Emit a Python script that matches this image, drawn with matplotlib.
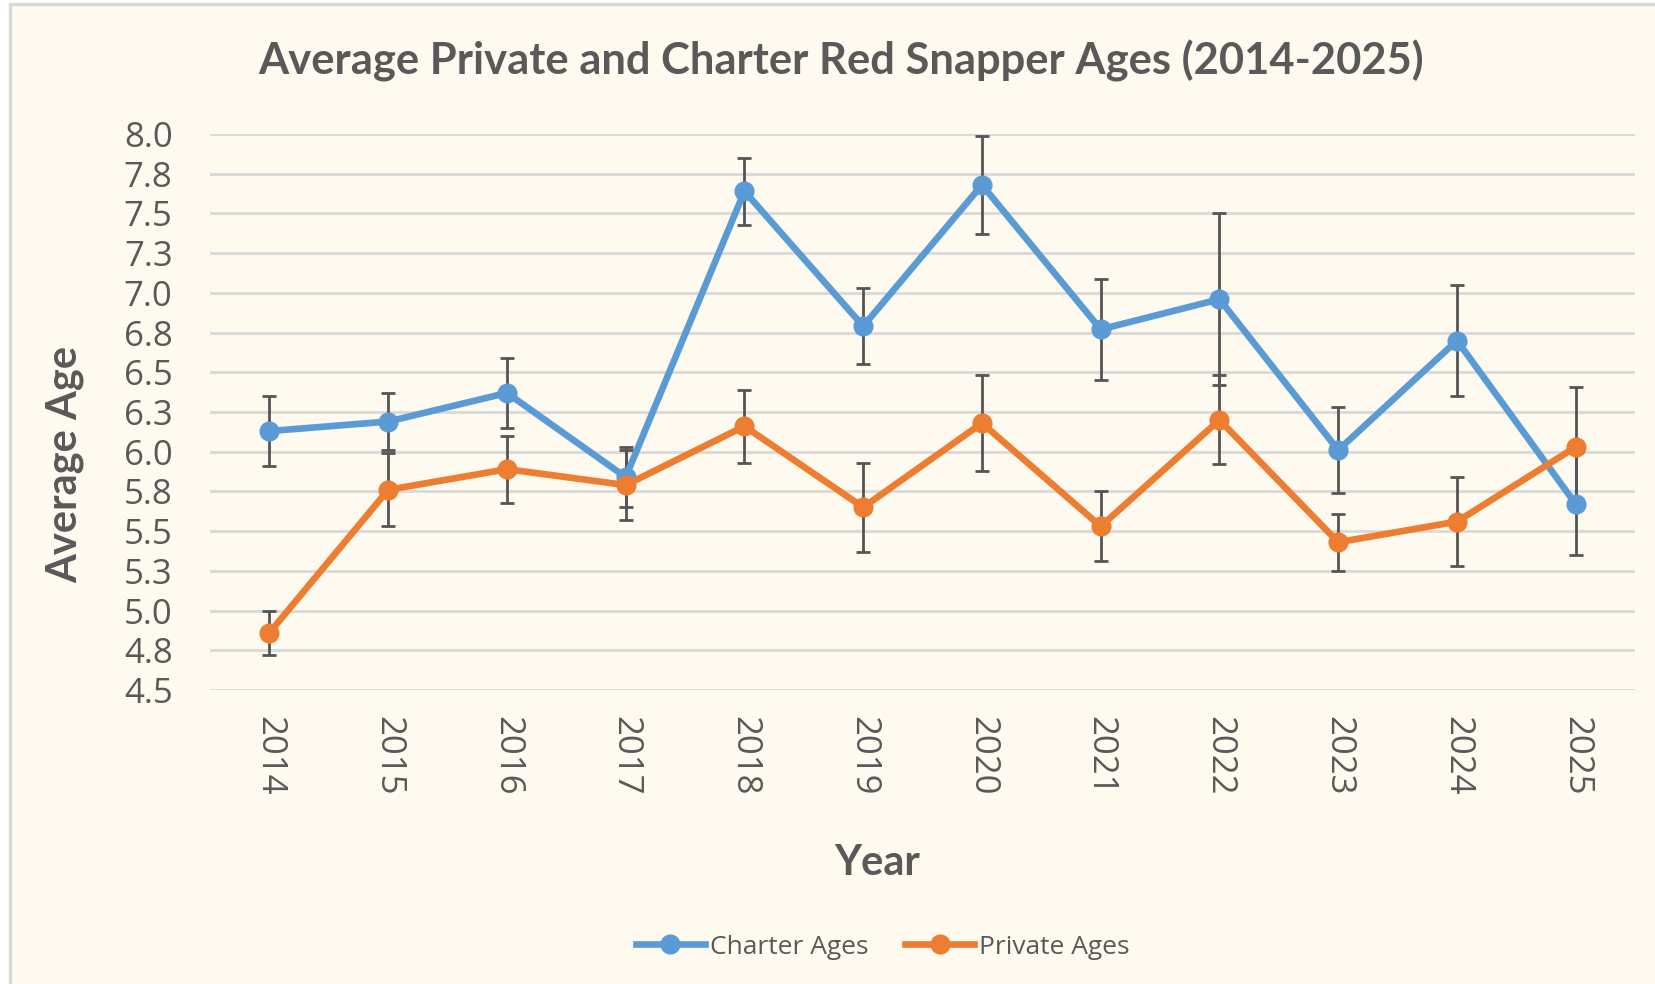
"""
Average private vs charter red snapper ages, 2014-2025, with error bars.
"""
import numpy as np
import matplotlib
matplotlib.use('Agg')
import matplotlib.pyplot as plt
from matplotlib.patches import Rectangle

# ── Data ──────────────────────────────────────────────────────
years = ['2014', '2015', '2016', '2017', '2018', '2019',
         '2020', '2021', '2022', '2023', '2024', '2025']
charter_ages = [6.13, 6.19, 6.37, 5.84, 7.64, 6.79, 7.68, 6.77, 6.96, 6.01, 6.70, 5.67]
charter_err  = [0.22, 0.18, 0.22, 0.19, 0.21, 0.24, 0.31, 0.32, 0.54, 0.27, 0.35, 0.32]
private_ages = [4.86, 5.76, 5.89, 5.79, 6.16, 5.65, 6.18, 5.53, 6.20, 5.43, 5.56, 6.03]
private_err  = [0.14, 0.23, 0.21, 0.22, 0.23, 0.28, 0.30, 0.22, 0.28, 0.18, 0.28, 0.38]
y_ticks = [4.5, 4.75, 5.0, 5.25, 5.5, 5.75, 6.0, 6.25, 6.5, 6.75, 7.0, 7.25, 7.5, 7.75, 8.0]
y_tick_labels = ['4.5', '4.8', '5.0', '5.3', '5.5', '5.8', '6.0', '6.3',
                 '6.5', '6.8', '7.0', '7.3', '7.5', '7.8', '8.0']

BLUE = '#5B9BD5'
ORANGE = '#ED7D31'
TEXT = '#595959'
GRID = '#D9D9D9'
BG = '#FEFAEF'

# ── Figure ───────────────────────────────────────────────────
fig = plt.figure(figsize=(16.55, 9.84), dpi=100, facecolor='white')
# chart box (only top/left edges are visible in the screenshot)
fig.patches.append(Rectangle((10 / 1655, -0.05), 1.2, 1.05 - 4 / 984,
                             transform=fig.transFigure, facecolor=BG,
                             edgecolor=GRID, lw=2.5, zorder=-10))

ax = fig.add_axes([0.1269, 0.2988, 0.8611, 0.565])
ax.set_facecolor('none')
x = np.arange(len(years))

ax.errorbar(x, charter_ages, yerr=charter_err, fmt='none', ecolor='#555555',
            elinewidth=2, capsize=5, capthick=2, zorder=2)
ax.errorbar(x, private_ages, yerr=private_err, fmt='none', ecolor='#555555',
            elinewidth=2, capsize=5, capthick=2, zorder=2)
l1, = ax.plot(x, charter_ages, color=BLUE, lw=4.8, marker='o', ms=13.5,
              label='Charter Ages', zorder=3)
l2, = ax.plot(x, private_ages, color=ORANGE, lw=4.8, marker='o', ms=13.5,
              label='Private Ages', zorder=3)

ax.set_xlim(-0.5, len(years) - 0.5)
ax.set_ylim(4.5, 8.0)
ax.set_yticks(y_ticks)
ax.set_yticklabels(y_tick_labels, fontfamily='Open Sans', fontsize=25, color=TEXT)
ax.set_xticks(x)
ax.set_xticklabels(years, rotation=-90, fontfamily='Open Sans', fontsize=25, color=TEXT)
ax.tick_params(axis='y', length=0, pad=27)
ax.tick_params(axis='x', length=0, pad=19)
ax.grid(axis='y', color=GRID, lw=2)
ax.set_axisbelow(True)
for s in ax.spines.values():
    s.set_visible(False)

# titles
fig.text(841 / 1655, 1 - 61 / 984, 'Average Private and Charter Red Snapper Ages (2014-2025)',
         ha='center', va='center', fontfamily='Lato', fontweight='bold', fontsize=31.3, color=TEXT)
fig.text(65 / 1655, 1 - 464 / 984, 'Average Age', rotation=90, ha='center', va='center',
         fontfamily='Lato', fontweight='bold', fontsize=30, color=TEXT)
fig.text(877 / 1655, 1 - 863 / 984, 'Year', ha='center', va='center',
         fontfamily='Lato', fontweight='bold', fontsize=30, color=TEXT)

fig.legend(handles=[l1, l2], loc='center', bbox_to_anchor=(0.5335, 0.0376), ncol=2,
           frameon=False, handlelength=2.6, handletextpad=0.2, columnspacing=1.4,
           prop={'family': 'Open Sans', 'size': 19}, labelcolor=TEXT)

plt.savefig('out.png', dpi=100, facecolor=fig.get_facecolor())
